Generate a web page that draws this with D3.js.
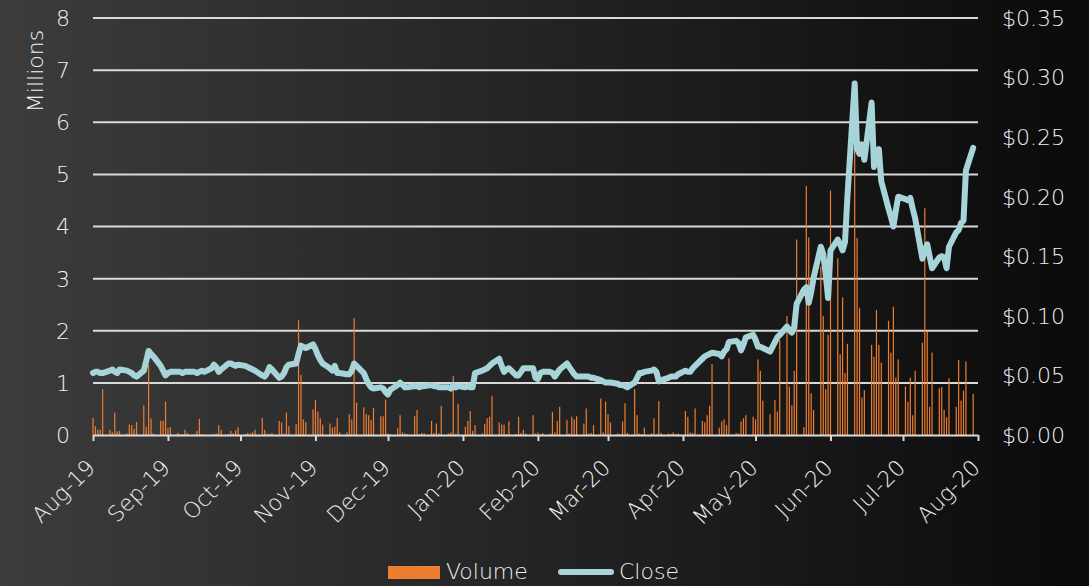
<!DOCTYPE html>
<html>
<head>
<meta charset="utf-8">
<script src="https://cdn.jsdelivr.net/npm/d3@7"></script>
<style>
  html, body { margin: 0; padding: 0; background: #000; }
  svg text { font-family: "DejaVu Sans", sans-serif; font-weight: 200; fill: #f0f0f0; }
</style>
</head>
<body>
<div id="chart"></div>
<script>

// sessions are plotted five days a week, starting on this date
var firstSession = new Date(2019, 7, 1);

// closing price, $ (one row = two weeks)
var close = [
  0.052, 0.053, 0.053, 0.052, 0.052,  0.054, 0.055, 0.053, 0.052, 0.055,
  0.054, 0.053, 0.052, 0.050, 0.049,  0.054, 0.062, 0.0705, 0.068, 0.066,
  0.058, 0.054, 0.050, 0.052, 0.053,  0.053, 0.053, 0.052, 0.053, 0.053,
  0.053, 0.052, 0.053, 0.054, 0.053,  0.056, 0.059, 0.057, 0.053, 0.055,
  0.060, 0.060, 0.059, 0.058, 0.059,  0.058, 0.057, 0.056, 0.055, 0.054,
  0.050, 0.049, 0.052, 0.057, 0.055,  0.048, 0.049, 0.052, 0.057, 0.059,
  0.060, 0.068, 0.075, 0.074, 0.073,  0.076, 0.072, 0.067, 0.063, 0.060,
  0.056, 0.054, 0.058, 0.052, 0.052,  0.051, 0.051, 0.054, 0.060, 0.058,
  0.052, 0.047, 0.043, 0.040, 0.039,  0.040, 0.039, 0.036, 0.034, 0.038,
  0.042, 0.044, 0.042, 0.040, 0.040,  0.041, 0.041, 0.040, 0.041, 0.041,
  0.042, 0.041, 0.041, 0.040, 0.040,  0.040, 0.039, 0.042, 0.040, 0.041,
  0.040, 0.041, 0.040, 0.040, 0.052,  0.054, 0.055, 0.056, 0.058, 0.060,
  0.064, 0.058, 0.053, 0.055, 0.056,  0.050, 0.050, 0.053, 0.056, 0.056,
  0.056, 0.048, 0.047, 0.052, 0.053,  0.053, 0.052, 0.049, 0.052, 0.055,
  0.060, 0.057, 0.054, 0.051, 0.049,  0.049, 0.049, 0.049, 0.048, 0.048,
  0.046, 0.045, 0.044, 0.044, 0.044,  0.043, 0.042, 0.042, 0.041, 0.040,
  0.044, 0.048, 0.052, 0.052, 0.053,  0.054, 0.055, 0.053, 0.045, 0.046,
  0.048, 0.049, 0.049, 0.049, 0.051,  0.054, 0.053, 0.053, 0.056, 0.058,
  0.064, 0.066, 0.067, 0.068, 0.069,  0.068, 0.066, 0.070, 0.072, 0.078,
  0.079, 0.077, 0.071, 0.076, 0.082,  0.084, 0.080, 0.074, 0.074, 0.073,
  0.070, 0.074, 0.078, 0.082, 0.084,  0.091, 0.088, 0.086, 0.091, 0.110,
  0.122, 0.124, 0.111, 0.120, 0.132,  0.158, 0.152, 0.135, 0.115, 0.155,
  0.164, 0.160, 0.155, 0.162, 0.200,  0.295, 0.240, 0.236, 0.244, 0.231,
  0.279, 0.225, 0.236, 0.240, 0.213,  0.190, 0.183, 0.175, 0.188, 0.200,
  0.198, 0.197, 0.199, 0.190, 0.182,  0.148, 0.155, 0.160, 0.150, 0.140,
  0.149, 0.150, 0.149, 0.140, 0.158,  0.170, 0.172, 0.178, 0.180, 0.222,
  0.241
];

// traded volume, millions of shares
var volume = [
  0.33, 0.17, 0.10, 0.10, 0.88,  0.10, 0.05, 0.43, 0.07, 0.08,
  0.03, 0.20, 0.19, 0.12, 0.25,  0.57, 0.16, 1.34, 0.32, 0.03,
  0.27, 0.27, 0.64, 0.14, 0.15,  0.04, 0.02, 0.01, 0.10, 0.04,
  0.02, 0.08, 0.31, 0.02, 0.01,  0.01, 0.02, 0.03, 0.19, 0.10,
  0.02, 0.08, 0.03, 0.09, 0.15,  0.02, 0.04, 0.03, 0.05, 0.10,
  0.33, 0.10, 0.03, 0.02, 0.04,  0.27, 0.24, 0.03, 0.43, 0.17,
  0.21, 2.20, 1.15, 0.30, 0.25,  0.49, 0.67, 0.45, 0.32, 0.20,
  0.22, 0.14, 0.16, 0.33, 0.05,  0.05, 0.40, 0.30, 2.24, 0.62,
  0.53, 0.40, 0.38, 0.29, 0.52,  0.36, 0.36, 0.68, 0.03, 0.02,
  0.13, 0.38, 0.05, 0.03, 0.02,  0.36, 0.48, 0.02, 0.04, 0.03,
  0.27, 0.04, 0.22, 0.03, 0.56,  0.03, 0.05, 1.13, 0.02, 0.60,
  0.16, 0.27, 0.46, 0.08, 0.19,  0.03, 0.21, 0.32, 0.35, 0.75,
  0.24, 0.20, 0.20, 0.02, 0.26,  0.02, 0.35, 0.04, 0.10, 0.03,
  0.38, 0.03, 0.05, 0.02, 0.04,  0.03, 0.44, 0.05, 0.27, 0.54,
  0.29, 0.03, 0.35, 0.30, 0.36,  0.22, 0.51, 0.03, 0.04, 0.19,
  0.70, 0.05, 0.64, 0.40, 0.24,  0.03, 0.02, 0.26, 0.61, 0.04,
  0.88, 0.38, 0.03, 0.02, 0.14,  0.03, 0.32, 0.02, 0.65, 0.04,
  0.03, 0.02, 0.05, 0.02, 0.03,  0.46, 0.35, 0.05, 0.04, 0.51,
  0.27, 0.24, 0.38, 0.56, 1.36,  0.14, 0.26, 0.30, 0.19, 1.47,
  0.04, 0.03, 0.26, 0.32, 0.38,  0.35, 0.30, 1.45, 1.23, 0.66,
  0.40, 0.02, 0.67, 0.45, 1.82,  2.28, 0.93, 0.57, 1.23, 3.75,
  0.15, 4.78, 3.79, 0.80, 0.48,  3.23, 2.28, 0.88, 1.92, 4.69,
  3.39, 1.55, 2.64, 1.19, 1.75,  5.85, 3.78, 2.44, 0.72, 0.86,
  1.73, 1.50, 2.40, 1.73, 1.39,  2.19, 1.58, 2.46, 1.10, 1.45,
  0.93, 0.64, 1.10, 0.38, 1.23,  1.77, 4.35, 1.98, 0.54, 1.58,
  0.90, 0.92, 0.48, 0.34, 1.09,  0.54, 1.44, 0.66, 0.85, 1.41,
  0.79
];

var volumeTicks = [0, 1, 2, 3, 4, 5, 6, 7, 8];
var priceTicks = [0, 0.05, 0.10, 0.15, 0.20, 0.25, 0.30, 0.35];
var dateRange = [new Date(2019, 7, 1), new Date(2020, 7, 1)];
var seriesNames = ["Volume", "Close"];

var W = 1089, H = 586;
var plot = { left: 93, right: 978, top: 18, bottom: 435 };
var BAR_COLOR = "#ed7d31", LINE_COLOR = "#a6d4d9", GRID_COLOR = "#d9d9d9";

var data = close.map(function (c, i) {
  var week = Math.floor(i / 5), day = i % 5;
  return { date: d3.timeDay.offset(firstSession, week * 7 + day), close: c, volume: volume[i] };
});

var x = d3.scaleTime().domain(dateRange).range([plot.left, plot.right]);
var yVol = d3.scaleLinear().domain([0, 8]).range([plot.bottom, plot.top]);
var yPrice = d3.scaleLinear().domain([0, 0.35]).range([plot.bottom, plot.top]);

var svg = d3.select("#chart").append("svg")
    .attr("width", W)
    .attr("height", H);

var grad = svg.append("defs").append("linearGradient")
    .attr("id", "bg")
    .attr("x1", "0%").attr("y1", "0%")
    .attr("x2", "100%").attr("y2", "0%");
grad.append("stop").attr("offset", "0%").attr("stop-color", "#3c3c3c");
grad.append("stop").attr("offset", "100%").attr("stop-color", "#0a0a0a");

svg.append("rect")
    .attr("width", W).attr("height", H)
    .attr("fill", "url(#bg)");

// horizontal gridlines
svg.append("g").selectAll("line")
    .data(volumeTicks.slice(1))
    .enter().append("line")
    .attr("x1", plot.left).attr("x2", plot.right)
    .attr("y1", function (d) { return yVol(d); })
    .attr("y2", function (d) { return yVol(d); })
    .attr("stroke", GRID_COLOR)
    .attr("stroke-width", 2);

// left axis labels
svg.append("g").selectAll("text")
    .data(volumeTicks)
    .enter().append("text")
    .attr("x", 70)
    .attr("y", function (d) { return yVol(d); })
    .attr("dy", "0.36em")
    .attr("text-anchor", "end")
    .style("font-size", "22px")
    .text(function (d) { return d; });

svg.append("text")
    .attr("transform", "translate(43,71) rotate(-90)")
    .attr("text-anchor", "middle")
    .style("font-size", "22px")
    .text("Millions");

// right axis labels
svg.append("g").selectAll("text")
    .data(priceTicks)
    .enter().append("text")
    .attr("x", 1002)
    .attr("y", function (d) { return yPrice(d); })
    .attr("dy", "0.36em")
    .style("font-size", "22px")
    .text(d3.format("$.2f"));

// volume bars
svg.append("g").selectAll("rect")
    .data(data)
    .enter().append("rect")
    .attr("x", function (d) { return x(d.date) - 0.6; })
    .attr("width", 1.2)
    .attr("y", function (d) { return yVol(d.volume); })
    .attr("height", function (d) { return plot.bottom - yVol(d.volume); })
    .attr("fill", BAR_COLOR);

// date axis
var xAxis = d3.axisBottom(x)
    .ticks(d3.timeMonth.every(1))
    .tickFormat(d3.timeFormat("%b-%y"))
    .tickSize(6)
    .tickSizeOuter(0);

var gx = svg.append("g")
    .attr("transform", "translate(0," + plot.bottom + ")")
    .call(xAxis);
gx.select(".domain").attr("stroke", GRID_COLOR).attr("stroke-width", 2);
gx.selectAll(".tick line").attr("stroke", GRID_COLOR).attr("stroke-width", 2);
gx.selectAll(".tick text")
    .attr("x", 0).attr("y", 0).attr("dy", 0)
    .attr("transform", "translate(3,34) rotate(-45)")
    .attr("text-anchor", "end")
    .attr("fill", "#f0f0f0")
    .style("font-size", "22px")
    .style("font-family", "\"DejaVu Sans\", sans-serif");

// close price line
var line = d3.line()
    .x(function (d) { return x(d.date); })
    .y(function (d) { return yPrice(d.close); });

svg.append("path")
    .datum(data)
    .attr("d", line)
    .attr("fill", "none")
    .attr("stroke", LINE_COLOR)
    .attr("stroke-width", 6)
    .attr("stroke-linejoin", "round")
    .attr("stroke-linecap", "round");

// legend
var legend = svg.append("g");
legend.append("rect")
    .attr("x", 388).attr("y", 566)
    .attr("width", 52).attr("height", 13)
    .attr("fill", BAR_COLOR);
legend.append("text")
    .attr("x", 446).attr("y", 579)
    .style("font-size", "22px")
    .text(seriesNames[0]);
legend.append("line")
    .attr("x1", 561).attr("x2", 611)
    .attr("y1", 572).attr("y2", 572)
    .attr("stroke", LINE_COLOR)
    .attr("stroke-width", 6)
    .attr("stroke-linecap", "round");
legend.append("text")
    .attr("x", 619).attr("y", 579)
    .style("font-size", "22px")
    .text(seriesNames[1]);

</script>
</body>
</html>
